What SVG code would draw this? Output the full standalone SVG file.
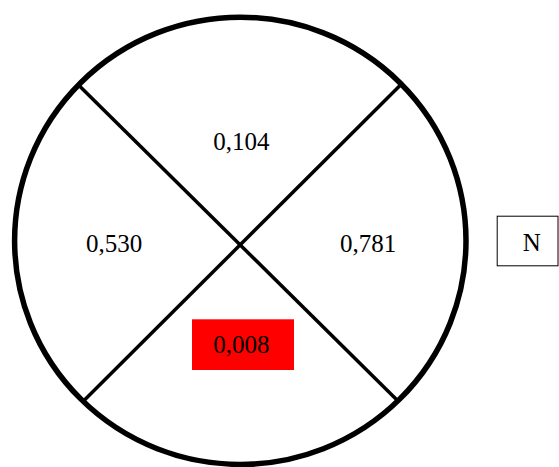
<svg xmlns="http://www.w3.org/2000/svg" width="559" height="467" viewBox="0 0 559 467">
<style>
.t{font-family:"Liberation Serif","Times New Roman",serif;font-size:25px;fill:#000;text-anchor:middle}
.ln{stroke:#000;stroke-width:3.5;fill:none}
</style>
<rect width="559" height="467" fill="#fff"/>
<g id="circle"><ellipse cx="240.3" cy="240.8" rx="225.7" ry="223.6" fill="none" stroke="#000" stroke-width="5.5"/></g>
<g id="connectors">
<line class="ln" x1="78.5" y1="85" x2="398.5" y2="401.5"/>
<line class="ln" x1="400.5" y1="85" x2="82" y2="402.5"/>
</g>
<g id="n104"><text class="t" x="241.3" y="150">0,104</text></g>
<g id="n530"><text class="t" x="114" y="252">0,530</text></g>
<g id="n781"><text class="t" x="368" y="252">0,781</text></g>
<g id="n008"><rect x="192" y="319.3" width="102" height="50.7" fill="#ff0000"/><text class="t" x="241.3" y="353">0,008</text></g>
<g id="north"><rect x="497.2" y="216.2" width="60.8" height="49.6" fill="#fff" stroke="#000" stroke-width="1"/><text class="t" x="531.7" y="250.7">N</text></g>
</svg>
